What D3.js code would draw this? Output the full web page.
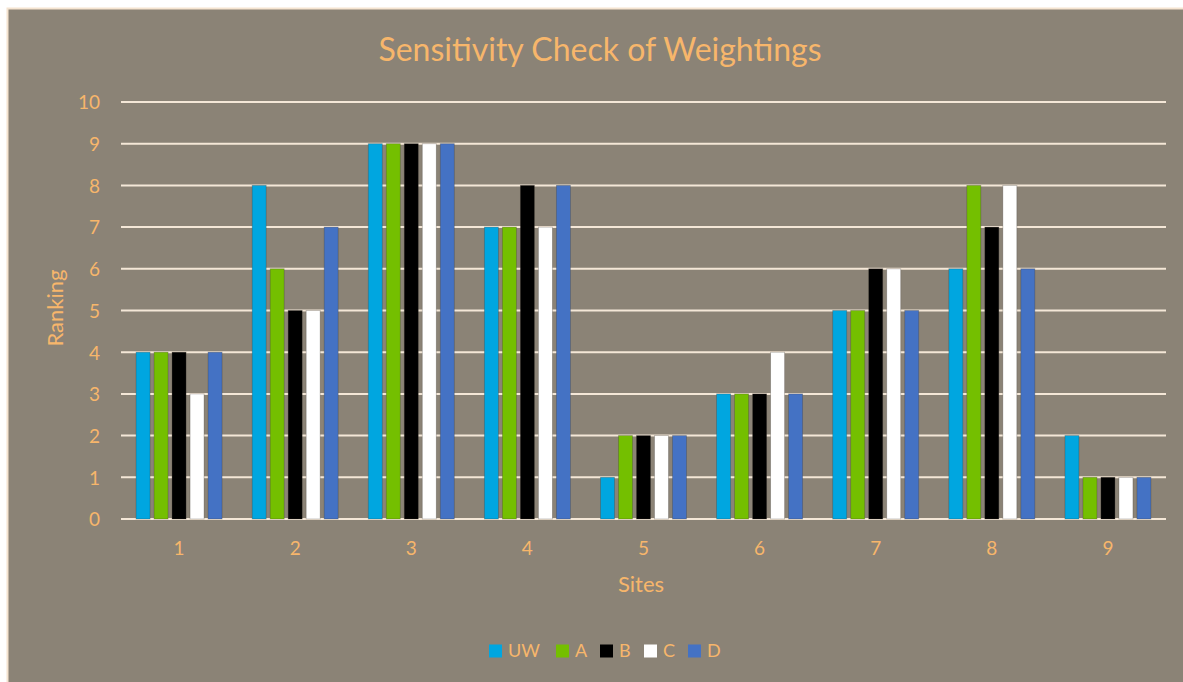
<!DOCTYPE html>
<html>
<head>
<meta charset="utf-8">
<script src="https://cdn.jsdelivr.net/npm/d3@7"></script>
<style>
  html, body { margin: 0; padding: 0; background: #ffffff; }
  svg { display: block; }
</style>
</head>
<body>
<svg id="chart" width="1183" height="682"></svg>
<script>
// Rankings of the nine sites under each weighting scheme
const sites = ["1", "2", "3", "4", "5", "6", "7", "8", "9"];
const seriesNames = ["UW", "A", "B", "C", "D"];
const rankUW = [4, 8, 9, 7, 1, 3, 5, 6, 2];
const rankA  = [4, 6, 9, 7, 2, 3, 5, 8, 1];
const rankB  = [4, 5, 9, 8, 2, 3, 6, 7, 1];
const rankC  = [3, 5, 9, 7, 2, 4, 6, 8, 1];
const rankD  = [4, 7, 9, 8, 2, 3, 5, 6, 1];
const yTicks = [0, 1, 2, 3, 4, 5, 6, 7, 8, 9, 10];

const seriesValues = [rankUW, rankA, rankB, rankC, rankD];
const colors = ["#00a6e0", "#74bf00", "#000000", "#ffffff", "#4472c4"];

const W = 1183, H = 682;
const bg = "#8b8376";
const textColor = "#f7b66b";
const gridColor = "#f4e7d7";
const font = "Lato, 'Open Sans', sans-serif";

const svg = d3.select("#chart");

// Chart area with a thin cream border
svg.append("rect").attr("x", 7.5).attr("y", 8.5).attr("width", W).attr("height", H)
  .attr("fill", bg).attr("stroke", "#f5e4d0").attr("stroke-width", 2);

const plot = { left: 121, right: 1166, top: 102, bottom: 519 };

const x = d3.scaleBand().domain(sites).range([plot.left, plot.right]).paddingInner(0).paddingOuter(0);
const xInner = d3.scaleBand().domain(seriesNames).range([0, x.bandwidth()])
  .paddingOuter(0.836).paddingInner(0.222);
const y = d3.scaleLinear().domain([0, 10]).range([plot.bottom, plot.top]);

// Horizontal gridlines
svg.append("g").selectAll("line").data(yTicks).join("line")
  .attr("x1", plot.left).attr("x2", plot.right)
  .attr("y1", d => y(d)).attr("y2", d => y(d))
  .attr("stroke", gridColor).attr("stroke-width", 2);

// Y axis labels
const yAxis = svg.append("g").attr("transform", `translate(${plot.left - 21},0)`)
  .call(d3.axisLeft(y).tickValues(yTicks).tickSize(0).tickPadding(0));
yAxis.select(".domain").remove();
yAxis.selectAll("text").attr("fill", textColor).attr("font-family", font)
  .attr("font-size", 19).attr("dy", "0.36em");

// X axis labels
const xAxis = svg.append("g").attr("transform", `translate(0,${plot.bottom + 29})`)
  .call(d3.axisBottom(x).tickSize(0).tickPadding(0));
xAxis.select(".domain").remove();
xAxis.selectAll("text").attr("fill", textColor).attr("font-family", font)
  .attr("font-size", 19).attr("dy", "0.36em");

// Bars
const groups = svg.append("g").selectAll("g").data(seriesNames).join("g")
  .attr("fill", (d, i) => colors[i]);
groups.selectAll("rect")
  .data((name, si) => seriesValues[si].map((v, ci) => ({ name, site: sites[ci], v })))
  .join("rect")
  .attr("x", d => x(d.site) + xInner(d.name))
  .attr("width", xInner.bandwidth())
  .attr("y", d => y(d.v))
  .attr("height", d => y(0) - y(d.v))
  .attr("stroke", "rgba(60,55,50,0.35)").attr("stroke-width", 0.8);

// Title
svg.append("text").attr("x", 600).attr("y", 61).attr("text-anchor", "middle")
  .attr("fill", textColor).attr("font-family", font).attr("font-size", 32)
  .text("Sensitivity Check of Weightings");

// Axis titles
svg.append("text").attr("x", 641).attr("y", 592).attr("text-anchor", "middle")
  .attr("fill", textColor).attr("font-family", font).attr("font-size", 22)
  .text("Sites");
svg.append("text").attr("transform", "translate(63,308) rotate(-90)").attr("text-anchor", "middle")
  .attr("fill", textColor).attr("font-family", font).attr("font-size", 22)
  .text("Ranking");

// Legend
const legend = svg.append("g").attr("transform", "translate(489,651)");
const legendOffsets = [0, 67, 111, 155, 199];
seriesNames.forEach((name, i) => {
  const g = legend.append("g").attr("transform", `translate(${legendOffsets[i]},0)`);
  g.append("rect").attr("x", 0).attr("y", -6.5).attr("width", 13).attr("height", 13).attr("fill", colors[i]);
  g.append("text").attr("x", 19).attr("y", 0).attr("dy", "0.36em")
    .attr("fill", textColor).attr("font-family", font).attr("font-size", 18).text(name);
});
</script>
</body>
</html>
